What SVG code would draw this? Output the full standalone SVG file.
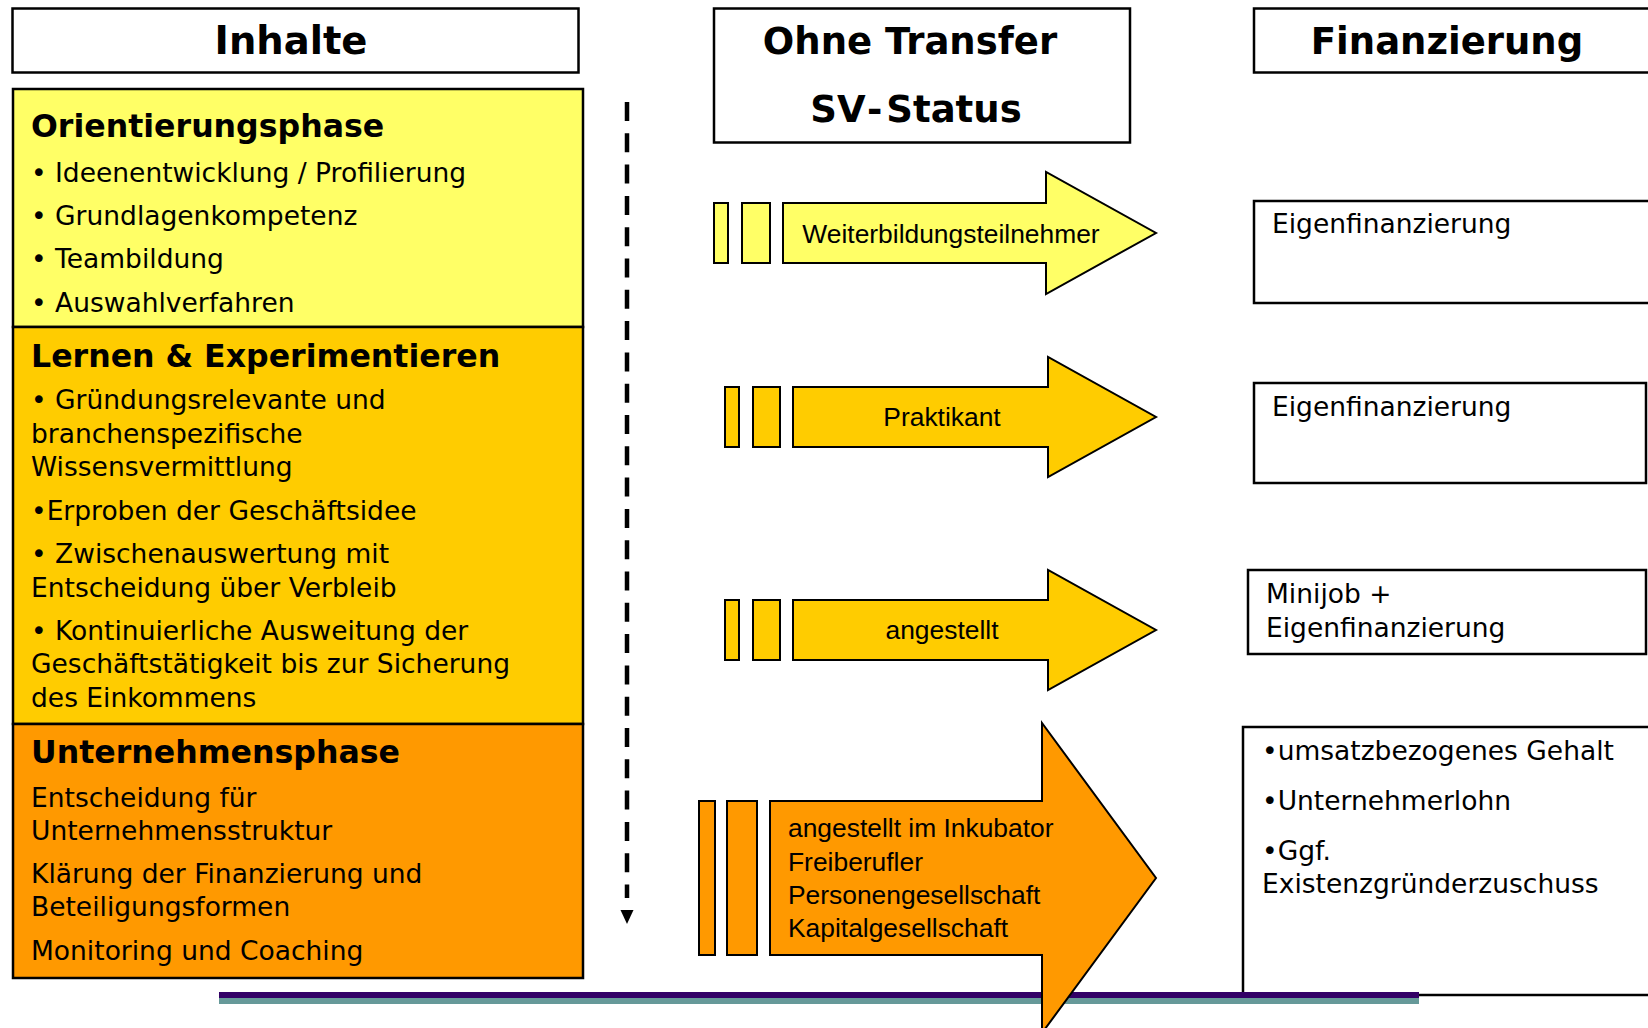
<svg xmlns="http://www.w3.org/2000/svg" width="1648" height="1028" viewBox="0 0 1648 1028">
  <style>
    .box { stroke: #000; stroke-width: 2.5; }
    .hdr { font-family: "DejaVu Sans", Verdana, sans-serif; font-weight: bold; font-size: 37px; fill: #000; text-anchor: middle; }
    .ttl { font-family: "DejaVu Sans", Verdana, sans-serif; font-weight: bold; font-size: 31.6px; fill: #000; }
    .txt { font-family: "DejaVu Sans", Verdana, sans-serif; font-size: 26.5px; fill: #000; }
    .lbl { font-family: "Liberation Sans", Arial, sans-serif; font-size: 26.4px; fill: #000; }
    .blk { stroke: #000; stroke-width: 2; }
    .y1 { fill: #FFFF66; }
    .y2 { fill: #FFCC00; }
    .y3 { fill: #FF9900; }
  </style>
  <defs>
    <marker id="tri" markerUnits="userSpaceOnUse" markerWidth="30" markerHeight="16" refX="0" refY="8" orient="auto" overflow="visible">
      <path d="M12,1.5 L26,8 L12,14.5 Z" fill="#000"/>
    </marker>
  </defs>

  <rect width="1648" height="1028" fill="#fff"/>

  <!-- column headers -->
  <g id="hdr-inhalte">
    <rect class="box" x="12.5" y="8.5" width="566" height="64" fill="#fff"/>
    <text class="hdr" x="291" y="54" style="font-size:38.5px">Inhalte</text>
  </g>
  <g id="hdr-status">
    <rect class="box" x="714" y="8.5" width="416" height="134" fill="#fff"/>
    <text class="hdr" x="910" y="54">Ohne Transfer</text>
    <text class="hdr" x="916" y="122">SV<tspan dx="4">-</tspan><tspan dx="4">Status</tspan></text>
  </g>
  <g id="hdr-finanz">
    <rect class="box" x="1254" y="8.5" width="420" height="64" fill="#fff"/>
    <text class="hdr" x="1447" y="54">Finanzierung</text>
  </g>

  <!-- phases -->
  <g id="phase-orientierung">
    <rect class="box y1" x="13" y="89" width="570" height="238"/>
    <text class="ttl" x="31" y="137">Orientierungsphase</text>
    <text class="txt" x="31" y="182">• Ideenentwicklung / Profilierung</text>
    <text class="txt" x="31" y="225">• Grundlagenkompetenz</text>
    <text class="txt" x="31" y="268">• Teambildung</text>
    <text class="txt" x="31" y="312">• Auswahlverfahren</text>
  </g>
  <g id="phase-lernen">
    <rect class="box y2" x="13" y="327" width="570" height="397"/>
    <text class="ttl" x="31" y="367">Lernen &amp; Experimentieren</text>
    <text class="txt" x="31" y="409">• Gründungsrelevante und</text>
    <text class="txt" x="31" y="443">branchenspezifische</text>
    <text class="txt" x="31" y="476">Wissensvermittlung</text>
    <text class="txt" x="31" y="520">•Erproben der Geschäftsidee</text>
    <text class="txt" x="31" y="563">• Zwischenauswertung mit</text>
    <text class="txt" x="31" y="597">Entscheidung über Verbleib</text>
    <text class="txt" x="31" y="640">• Kontinuierliche Ausweitung der</text>
    <text class="txt" x="31" y="673">Geschäftstätigkeit bis zur Sicherung</text>
    <text class="txt" x="31" y="707">des Einkommens</text>
  </g>
  <g id="phase-unternehmen">
    <rect class="box y3" x="13" y="724" width="570" height="254"/>
    <text class="ttl" x="31" y="763">Unternehmensphase</text>
    <text class="txt" x="31" y="807">Entscheidung für</text>
    <text class="txt" x="31" y="840">Unternehmensstruktur</text>
    <text class="txt" x="31" y="883">Klärung der Finanzierung und</text>
    <text class="txt" x="31" y="916">Beteiligungsformen</text>
    <text class="txt" x="31" y="960">Monitoring und Coaching</text>
  </g>

  <!-- financing boxes -->
  <g id="fin-1">
    <rect class="box" x="1254" y="201" width="420" height="102" fill="#fff"/>
    <text class="txt" x="1272" y="233">Eigenfinanzierung</text>
  </g>
  <g id="fin-2">
    <rect class="box" x="1254" y="383" width="392" height="100" fill="#fff"/>
    <text class="txt" x="1272" y="416">Eigenfinanzierung</text>
  </g>
  <g id="fin-3">
    <rect class="box" x="1248" y="570" width="398" height="84" fill="#fff"/>
    <text class="txt" x="1266" y="603">Minijob +</text>
    <text class="txt" x="1266" y="637">Eigenfinanzierung</text>
  </g>
  <g id="fin-4">
    <rect class="box" x="1243" y="727" width="430" height="268" fill="#fff"/>
    <text class="txt" x="1262" y="760">•umsatzbezogenes Gehalt</text>
    <text class="txt" x="1262" y="810">•Unternehmerlohn</text>
    <text class="txt" x="1262" y="860">•Ggf.</text>
    <text class="txt" x="1262" y="893">Existenzgründerzuschuss</text>
  </g>

  <!-- footer rule -->
  <g id="footer-rule">
    <rect x="219" y="992" width="1200" height="6" fill="#330066"/>
    <rect x="219" y="998" width="1200" height="6" fill="#669999"/>
  </g>

  <!-- status block arrows -->
  <g id="status-weiterbildung">
    <rect class="blk y1" x="714" y="203" width="14" height="60"/>
    <rect class="blk y1" x="742" y="203" width="28" height="60"/>
    <path class="blk y1" d="M783,203 H1046 V172 L1156,233 L1046,294 V263 H783 Z"/>
    <text class="lbl" x="951" y="243" text-anchor="middle">Weiterbildungsteilnehmer</text>
  </g>
  <g id="status-praktikant">
    <rect class="blk y2" x="725" y="387" width="14" height="60"/>
    <rect class="blk y2" x="753" y="387" width="27" height="60"/>
    <path class="blk y2" d="M793,387 H1048 V357 L1156,417 L1048,477 V447 H793 Z"/>
    <text class="lbl" x="942" y="426" text-anchor="middle">Praktikant</text>
  </g>
  <g id="status-angestellt">
    <rect class="blk y2" x="725" y="600" width="14" height="60"/>
    <rect class="blk y2" x="753" y="600" width="27" height="60"/>
    <path class="blk y2" d="M793,600 H1048 V570 L1156,630 L1048,690 V660 H793 Z"/>
    <text class="lbl" x="942" y="639" text-anchor="middle">angestellt</text>
  </g>
  <g id="status-unternehmen">
    <rect class="blk y3" x="699" y="801" width="16" height="154"/>
    <rect class="blk y3" x="727" y="801" width="30" height="154"/>
    <path class="blk y3" d="M770,801 H1042 V723 L1156,878 L1042,1033 V955 H770 Z"/>
    <text class="lbl" x="788" y="837">angestellt im Inkubator</text>
    <text class="lbl" x="788" y="871">Freiberufler</text>
    <text class="lbl" x="788" y="904">Personengesellschaft</text>
    <text class="lbl" x="788" y="937">Kapitalgesellschaft</text>
  </g>

  <!-- timeline connector -->
  <g id="connectors">
    <path d="M627,102 V898" fill="none" stroke="#000" stroke-width="4.5" stroke-dasharray="19 12.3" marker-end="url(#tri)"/>
  </g>
</svg>
